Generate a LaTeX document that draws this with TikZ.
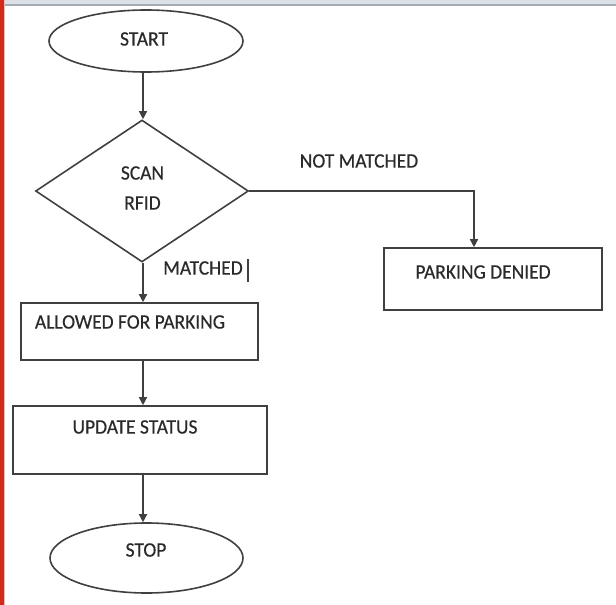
\documentclass[tikz,border=0pt]{standalone}
\usepackage{fontspec}
\setmainfont{Carlito}[FakeStretch=0.95,FakeBold=0.4]
\usetikzlibrary{shapes.geometric,arrows.meta}
\definecolor{ink}{HTML}{2A2A2A}
\definecolor{edge}{HTML}{404040}
\definecolor{redbar}{HTML}{D42A1A}
\definecolor{topband}{HTML}{DCE1E8}
\definecolor{topline}{HTML}{A3ABB5}
\tikzset{
  shp/.style={draw=edge, line width=1.6pt, fill=white, inner sep=0pt},
  term/.style={shp, ellipse},
  decide/.style={shp, diamond},
  proc/.style={shp, rectangle},
  txt/.style={text=ink, inner sep=0pt, font=\fontsize{20.5}{22}\selectfont},
  flow/.style={draw=edge, line width=1.4pt, -{Triangle[length=8pt,width=8pt]}},
}
\begin{document}
\begin{tikzpicture}[x=1pt,y=-1pt]
\useasboundingbox (0,0) rectangle (616,605);
\fill[white] (0,0) rectangle (616,605);
% frame decorations
\fill[topband] (0,0) rectangle (616,3.5);
\fill[topline] (0,3.5) rectangle (616,5.5);
\fill[redbar] (0,0) rectangle (3.5,605);
\fill[red!30] (3.5,0) rectangle (4.5,605);

% shapes
\node[term, minimum width=194pt, minimum height=62pt] (start) at (146,41) {};
\node[decide, minimum width=213pt, minimum height=142pt] (dia) at (142,191) {};
\node[proc, minimum width=237pt, minimum height=57pt] (allow) at (139.5,331.5) {};
\node[proc, minimum width=254pt, minimum height=68pt] (update) at (140,440) {};
\node[term, minimum width=193pt, minimum height=70pt] (stop) at (146.5,558) {};
\node[proc, minimum width=218pt, minimum height=62pt] (deny) at (493,279) {};

% texts
\node[txt] (tstart) at (144,39) {START};
\node[txt] (tscan) at (142.5,173) {SCAN};
\node[txt] (trfid) at (142.5,203) {RFID};
\node[txt] (tallow) at (130,322) {ALLOWED FOR PARKING};
\node[txt] (tupdate) at (135,427) {UPDATE STATUS};
\node[txt] (tstop) at (146,550) {STOP};
\node[txt] (tdeny) at (483,272) {PARKING DENIED};
\node[txt] (tnot) at (359,161) {NOT MATCHED};
\node[txt] (tmatch) at (203,268) {MATCHED};
\coordinate (cur1) at (248,259);
\coordinate (cur2) at (248,282);
\draw[edge, line width=2.5pt] (cur1) -- (cur2);

% connectors
\coordinate (c1) at (143,0);
\draw[flow] (start.south -| c1) -- (dia.north -| c1);
\draw[flow] (dia.south -| c1) -- (allow.north -| c1);
\draw[flow] (allow.south -| c1) -- (update.north -| c1);
\draw[flow] (update.south -| c1) -- (stop.north -| c1);
\coordinate (c2) at (474,0);
\draw[flow] (dia.east) -- (dia.east -| c2) -- (deny.north -| c2);
\end{tikzpicture}
\end{document}
